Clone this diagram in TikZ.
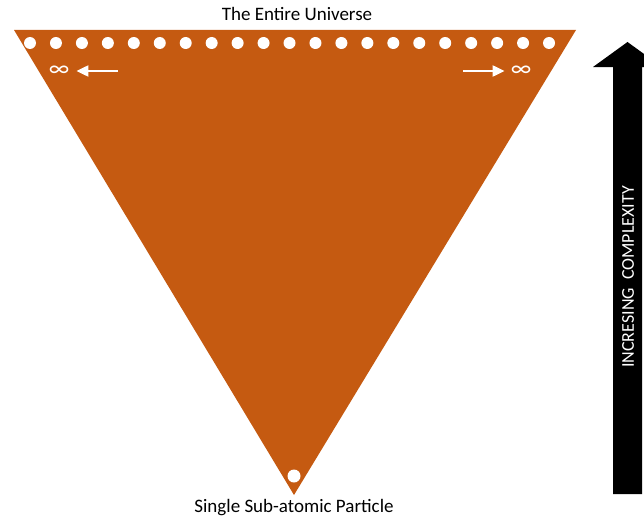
\documentclass[tikz,border=0pt]{standalone}
\usepackage{fontspec}
\setmainfont{Carlito}
\usetikzlibrary{arrows.meta}
\definecolor{rust}{HTML}{C55A11}
\begin{document}
\begin{tikzpicture}[
    x=1pt, y=-1pt,
    dot/.style={circle, fill=white, inner sep=0pt, minimum size=12pt},
    label/.style={font=\fontsize{19}{21}\selectfont, inner sep=0pt},
    inf/.style={text=white, font=\fontsize{24}{24}\selectfont, inner sep=0pt},
    arrow/.style={-{Triangle[length=12pt, width=11pt]}, white, line width=2.2pt},
]
\useasboundingbox (0,0) rectangle (644,519);

% Triangle
\coordinate (tl) at (14,30);
\coordinate (tr) at (576,30);
\coordinate (apex) at (294,495);
\fill[rust] (tl) -- (tr) -- (apex) -- cycle;

% Dots
\foreach \i in {0,...,20}
    \node[dot] (d\i) at (30+25.95*\i, 43) {};
\node[dot, minimum size=13pt] (single) at (294,476) {};

% Infinity
\node[inf] (infl) at (59,71) {∞};
\node[inf] (infr) at (521,71) {∞};
\coordinate (al) at (118,71);
\coordinate (ar) at (463,71);
\draw[arrow] (al) -- ([xshift=7pt]infl.east);
\draw[arrow] (ar) -- ([xshift=-6pt]infr.west);

% Labels
\node[label] (top) at (297,14) {The Entire Universe};
\node[label] (bottom) at (294,508) {Single Sub-atomic Particle};

% Complexity
\fill[black] (613,494) -- (613,67) -- (593,67) -- (627.5,42) -- (662,67) -- (642,67) -- (642,494) -- cycle;
\node[label, font=\fontsize{18}{20}\selectfont, text=white, rotate=90] (complex) at (628,277) {INCRESING\ \ COMPLEXITY};

\end{tikzpicture}
\end{document}
